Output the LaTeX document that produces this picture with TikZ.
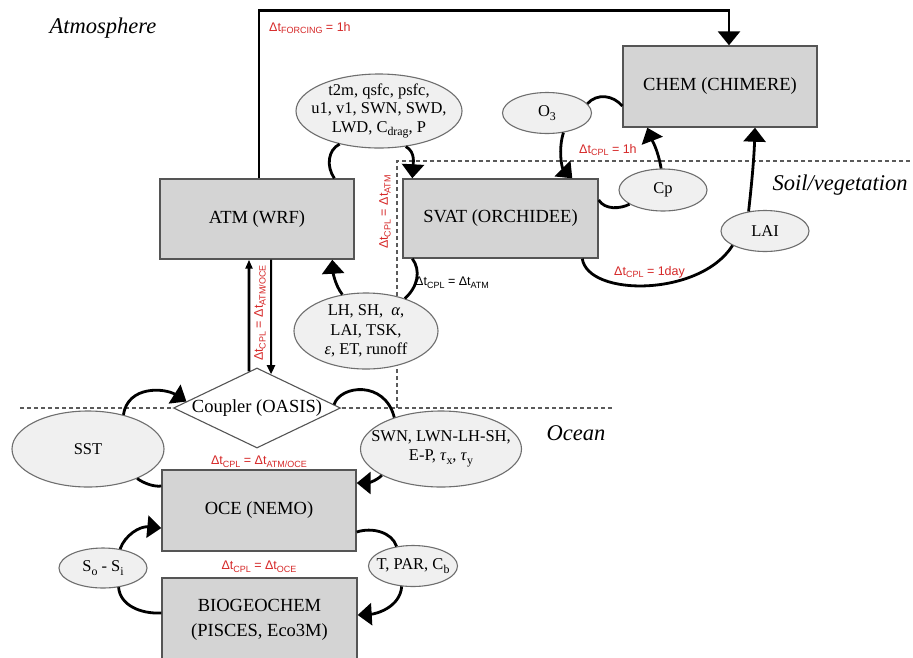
\documentclass[tikz,border=0pt]{standalone}
\usepackage{fontspec}
\setmainfont{Liberation Serif}
\newfontfamily\lsans{Liberation Sans}
\usetikzlibrary{shapes.geometric,arrows.meta,calc}
\definecolor{boxfill}{RGB}{212,212,212}
\definecolor{boxline}{RGB}{85,85,85}
\definecolor{ellfill}{RGB}{240,240,240}
\definecolor{ellline}{RGB}{110,110,110}
\definecolor{lblred}{RGB}{214,40,40}
\definecolor{dashgray}{RGB}{90,90,90}
\newcommand\lsub[1]{\raisebox{-0.45ex}{\scalebox{0.72}{#1}}}
\begin{document}
\begin{tikzpicture}[x=1pt,y=-1pt,
  model/.style={draw=boxline, fill=boxfill, line width=1.4pt, rectangle, inner sep=0pt,
    font=\fontsize{18.5}{22}\selectfont, align=center},
  var/.style={draw=ellline, fill=ellfill, line width=1.1pt, ellipse, inner sep=0pt},
  vtext/.style={font=\fontsize{16.5}{18.5}\selectfont, align=center, inner sep=0pt},
  conn/.style={line width=2.8pt, black},
  bigtip/.style={-{Triangle[width=22pt,length=14pt]}},
  region/.style={font=\itshape\fontsize{22.5}{26}\selectfont, inner sep=0pt},
  dtlbl/.style={font=\lsans\fontsize{12.5}{14}\selectfont, text=lblred, inner sep=0pt},
  sep/.style={draw=dashgray, line width=1.1pt, dash pattern=on 4pt off 3pt}
]
\useasboundingbox (0,0) rectangle (913,657);
\fill[white] (0,0) rectangle (913,657);

% region separators
\draw[sep] (397,408) -- (397,161) -- (911,161);
\draw[sep] (20,408) -- (613,408);

% models
\node[model, minimum width=194pt, minimum height=80pt] (atm) at (257,219) {ATM (WRF)};
\node[model, minimum width=195pt, minimum height=79pt] (svat) at (500.5,218.5) {SVAT (ORCHIDEE)};
\node[model, minimum width=194pt, minimum height=81pt] (chem) at (720,86.5) {CHEM (CHIMERE)};
\node[model, minimum width=194pt, minimum height=81pt] (oce) at (259,510.5) {OCE (NEMO)};
\node[model, minimum width=195pt, minimum height=83pt, font=\fontsize{18.5}{25}\selectfont] (bio) at (259.5,619.5) {BIOGEOCHEM\\(PISCES, Eco3M)};
\node[diamond, draw=boxline, line width=1.1pt, fill=white, shape aspect=2.09,
  minimum width=167pt, minimum height=80pt, inner sep=0pt,
  font=\fontsize{18.5}{22}\selectfont] (coupler) at (257,408) {Coupler (OASIS)};

% exchanged variables
\node[var, minimum width=166pt, minimum height=74pt,
  label={[vtext]center:{t2m, qsfc, psfc,\\u1, v1, SWN, SWD,\\LWD, C\lsub{drag}, P}}] (meteo) at (379,111) {};
\node[var, minimum width=89pt, minimum height=41pt, label={[vtext]center:{O\lsub{3}}}] (o3) at (547,113) {};
\node[var, minimum width=88pt, minimum height=42pt, label={[vtext]center:{Cp}}] (cp) at (663,190) {};
\node[var, minimum width=88pt, minimum height=41pt, label={[vtext]center:{LAI}}] (lai) at (765,231) {};
\node[var, minimum width=144pt, minimum height=76pt,
  label={[vtext, font=\fontsize{16.5}{19.5}\selectfont]center:{LH, SH,\ \ \textit{α},\\LAI, TSK,\\\textit{ε}, ET, runoff}}] (lh) at (366,331) {};
\node[var, minimum width=152pt, minimum height=76pt, label={[vtext]center:{SST}}] (sst) at (88,449) {};
\node[var, minimum width=161pt, minimum height=76pt,
  label={[vtext, font=\fontsize{16.5}{19}\selectfont]center:{SWN, LWN-LH-SH,\\E-P, \textit{τ}\lsub{x}, \textit{τ}\lsub{y}}}] (swn) at (441,449) {};
\node[var, minimum width=88pt, minimum height=40pt, label={[vtext]center:{S\lsub{o} - S\lsub{i}}}] (sosi) at (103,568) {};
\node[var, minimum width=89pt, minimum height=41pt, label={[vtext]center:{T, PAR, C\lsub{b}}}] (tpar) at (413,566) {};

% region names
\node[region] (atmo) at (103,28) {Atmosphere};
\node[region] (soil) at (840,185) {Soil/vegetation};
\node[region] (ocean) at (576,433) {Ocean};

% time step labels
\node[dtlbl, anchor=west] (fdt) at (269,28) {Δt\lsub{FORCING} = 1h};
\node[dtlbl, anchor=west] (chdt) at (579,150) {Δt\lsub{CPL} = 1h};
\node[dtlbl, anchor=west] (laidt) at (614,272) {Δt\lsub{CPL} = 1day};
\node[dtlbl, rotate=90] (svdt) at (385,212) {Δt\lsub{CPL} = Δt\lsub{ATM}};
\node[dtlbl, text=black, anchor=west] (svdt2) at (415,283) {Δt\lsub{CPL} = Δt\lsub{ATM}};
\node[dtlbl, rotate=90] (aodt) at (260,313) {Δt\lsub{CPL} = Δt\lsub{ATM/OCE}};
\node[dtlbl] (aodt2) at (259,462) {Δt\lsub{CPL} = Δt\lsub{ATM/OCE}};
\node[dtlbl] (obdt) at (259,567) {Δt\lsub{CPL} = Δt\lsub{OCE}};

% forcing
\draw[conn, bigtip] ([xshift=2pt]atm.north) -- ++(0,-168) -| ([xshift=9pt]chem.north);
% ATM <-> SVAT
\draw[conn] ([xshift=175pt]atm.north west) .. controls (326,166) and (328,150) .. (meteo.220);
\draw[conn, bigtip] (meteo.-53) .. controls (416,152) and (413,165) .. ([xshift=10pt]svat.north west);
\draw[conn] ([xshift=10pt]svat.south west) .. controls (421,270) and (418,287) .. (lh.40);
\draw[conn, bigtip] (lh.123) .. controls (335,285) and (333,272) .. ([xshift=173pt]atm.south west);
% CHEM <-> SVAT
\draw[conn] (o3.13) .. controls (597,93) and (613,95) .. ([yshift=-19.5pt]chem.west);
\draw[conn, bigtip] (o3.-50) .. controls (558,150) and (562,168) .. ([xshift=170pt]svat.north west);
\draw[conn] ([yshift=18.5pt]svat.east) .. controls (605,210) and (620,209) .. (cp.203);
\draw[conn, bigtip] (cp.95) .. controls (658,150) and (652,140) .. ([xshift=25pt]chem.south west);
\draw[conn] ([xshift=180pt]svat.south west) .. controls (588,297) and (700,297) .. (lai.204);
\draw[conn, bigtip] (lai.130) .. controls (751,190) and (754,160) .. ([xshift=35pt]chem.south);
% ATM <-> coupler
\draw[line width=2.6pt, -{Triangle[width=7pt,length=9pt]}] ($(coupler.north)!0.095!(coupler.west)$) -- ([xshift=-8pt]atm.south);
\draw[line width=2pt, -{Triangle[width=8pt,length=9pt]}] ([xshift=14pt]atm.south) -- ($(coupler.north)!0.167!(coupler.east)$);
% coupler <-> OCE
\draw[conn, bigtip] (sst.44) .. controls (128,385) and (165,388) .. ($(coupler.west)!0.16!(coupler.north)$);
\draw[conn] ([yshift=24.5pt]oce.west) .. controls (155,487) and (145,484) .. (sst.-31);
\draw[conn] ($(coupler.east)!0.083!(coupler.north)$) .. controls (340,385) and (385,380) .. (swn.146);
\draw[conn, bigtip] (swn.204) .. controls (375,482) and (366,483) .. ([yshift=27.5pt]oce.east);
% OCE <-> BIOGEOCHEM
\draw[conn, bigtip] (sosi.48) .. controls (125,535) and (140,526) .. ([yshift=-17.5pt]oce.west);
\draw[conn] ([yshift=6.5pt]bio.west) .. controls (140,614) and (120,605) .. (sosi.-51);
\draw[conn] ([yshift=-21.5pt]oce.east) .. controls (372,527) and (392,532) .. (tpar.130);
\draw[conn, bigtip] (tpar.241) .. controls (400,608) and (375,614) .. ([yshift=4.5pt]bio.east);
\end{tikzpicture}
\end{document}
